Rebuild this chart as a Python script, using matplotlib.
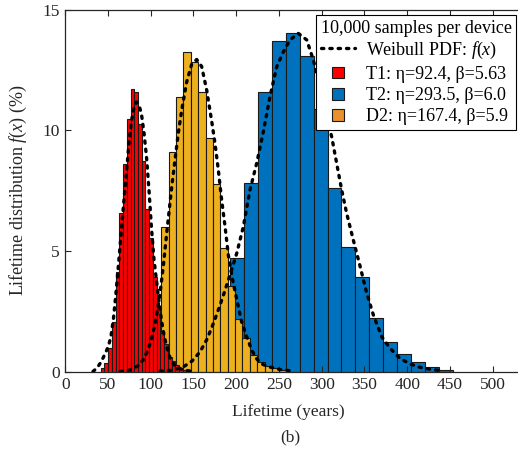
import numpy as np
import matplotlib
matplotlib.use('Agg')
import matplotlib.pyplot as plt
from matplotlib.lines import Line2D
from matplotlib.patches import Patch, Rectangle
from matplotlib.legend_handler import HandlerPatch

# ---------------- data ----------------
# histogram bins: first left edge and bin width in years, bar heights in %
t1_start, t1_width = 41.5, 4.36
t1_pct = [0.15, 0.35, 0.97, 2.05, 4.12, 6.56, 8.6, 10.48, 11.71, 11.57, 10.26,
          8.72, 6.73, 5.52, 3.93, 2.72, 1.59, 1.15, 0.62, 0.46, 0.28, 0.14, 0.07]

d2_start, d2_width = 95.1, 8.63
d2_pct = [0.8, 2.5, 6.0, 9.11, 11.36, 13.25, 12.81, 11.6, 9.69, 7.76, 5.11,
          3.56, 2.2, 1.4, 0.71, 0.41, 0.24, 0.17, 0.08]

t2_start, t2_width = 143.8, 16.3
t2_pct = [0.1, 0.5, 2.1, 4.69, 7.8, 11.6, 13.71, 14.01, 13.09, 10.9, 7.59,
          5.18, 3.93, 2.21, 1.22, 0.72, 0.39, 0.18, 0.08]

# dashed Weibull PDF curves (years, %)
t1_cx = [32.5, 37.2, 41.9, 46.5, 50.6, 53.6, 56.5, 59.4, 64.1, 68.2, 71.7, 74.6,
         77.5, 80.5, 83.4, 86.3, 89.2, 92.2, 95.1, 98.0, 100.9, 103.9, 107.4,
         110.9, 114.4, 117.9, 122.6, 128.4, 137.8, 148.3]
t1_cy = [0.01, 0.15, 0.40, 0.73, 1.06, 1.48, 2.22, 3.26, 5.16, 6.90, 8.27, 9.47,
         10.38, 10.96, 11.17, 11.04, 10.67, 9.88, 8.89, 7.52, 5.95, 4.63, 3.59,
         2.55, 1.73, 1.15, 0.57, 0.24, 0.07, 0.02]

d2_cx = [64.1, 75.8, 85.1, 92.2, 98.0, 102.7, 107.0, 110.9, 114.7, 118.7, 124.6,
         128.4, 132.3, 136.3, 142.1, 148.0, 153.8, 159.6, 165.5, 171.3, 175.2,
         179.1, 183.0, 186.9, 190.8, 196.6, 202.5, 206.4, 212.3, 218.1, 224.0,
         229.8, 239.5, 251.2, 262.9]
d2_cy = [0.01, 0.07, 0.24, 0.53, 1.02, 1.60, 2.35, 3.25, 4.35, 5.73, 7.65,
         8.77, 9.88, 10.84, 12.00, 12.74, 12.93, 12.64, 11.66, 10.38, 9.46,
         8.35, 7.11, 6.03, 4.83, 3.67, 2.69, 2.06, 1.45, 0.90, 0.53,
         0.32, 0.19, 0.09, 0.04]

t2_cx = [110.9, 124.9, 137.8, 148.3, 157.7, 165.9, 174.0, 181.1, 187.0, 192.7,
         200.6, 208.3, 216.1, 224.0, 231.7, 239.5, 247.4, 255.1, 262.9, 272.6,
         282.5, 290.2, 298.0, 305.8, 311.7, 317.5, 323.4, 329.2, 337.0, 344.8,
         352.6, 360.4, 370.2, 379.9, 391.6, 403.3, 415.0, 426.7, 438.4]
t2_cy = [0.02, 0.06, 0.19, 0.44, 0.82, 1.35, 2.06, 2.76, 3.38, 4.00,
         4.90, 6.00, 7.52, 8.64, 9.93, 11.39, 12.63, 13.24, 13.74, 14.01,
         13.74, 12.91, 11.80, 10.56, 9.73, 8.63, 7.52, 6.56, 5.45, 4.38,
         3.26, 2.35, 1.45, 0.97, 0.55, 0.32, 0.18, 0.10, 0.05]

x_ticks = [0, 50, 100, 150, 200, 250, 300, 350, 400, 450, 500]
y_ticks = [0, 5, 10, 15]

labels = ['T1: η=92.4, β=5.63', 'T2: η=293.5, β=6.0', 'D2: η=167.4, β=5.9']
legend_title = '10,000 samples per device'
curve_label = 'Weibull PDF: $f$($x$)'

# ---------------- style ----------------
plt.rcParams['font.family'] = ['Liberation Serif', 'DejaVu Serif']
plt.rcParams['mathtext.fontset'] = 'custom'
plt.rcParams['mathtext.rm'] = 'Liberation Serif'
plt.rcParams['mathtext.it'] = 'Liberation Serif:italic'
plt.rcParams['font.size'] = 12.5

c_red = '#FF0000'
c_blue = '#0072BD'
c_yel = '#EDB120'
c_leg_d2 = '#E9912E'
edge = '#1a1a1a'
axc = '#262626'

fig = plt.figure(figsize=(5.18, 4.50), dpi=100)
ax_w = 540 * 0.855
ax = fig.add_axes([65.2 / 518, (450 - 371.7) / 450, ax_w / 518, (371.7 - 9.5) / 450])

def draw_hist(start, width, vals, color, z):
    lefts = start + width * np.arange(len(vals))
    ax.bar(lefts, vals, width=width, align='edge', color=color,
           edgecolor=edge, linewidth=0.8, zorder=z)

draw_hist(t2_start, t2_width, t2_pct, c_blue, 1)
draw_hist(d2_start, d2_width, d2_pct, c_yel, 2)
draw_hist(t1_start, t1_width, t1_pct, c_red, 3)

for cx, cy in [(t1_cx, t1_cy), (d2_cx, d2_cy), (t2_cx, t2_cy)]:
    ax.plot(cx, cy, color='black', lw=2.4, dashes=[0.7, 1.8],
            dash_capstyle='round', zorder=5)

ax.set_xlim(0, 540)
ax.set_ylim(0, 15)
ax.set_xticks(x_ticks)
ax.set_yticks(y_ticks)
ax.tick_params(direction='in', length=4, width=0.8, top=True, right=True,
               colors=axc, labelcolor='#262626', pad=4)
for s in ax.spines.values():
    s.set_color(axc)
    s.set_linewidth(0.9)

ax.set_xlabel('Lifetime (years)', color='#262626')
ax.xaxis.set_label_coords((288 - 65.2) / ax_w, -0.09)
ax.set_ylabel('Lifetime distribution $f$($x$) (%)', color='#262626', fontsize=13)
ax.yaxis.set_label_coords(-(65.2 - 29) / ax_w, 0.5)
fig.text(290 / 518, 1 - 437 / 450, '(b)', ha='center', va='center',
         color='#262626', fontsize=12.5)


def square_patch(legend, orig_handle, xdescent, ydescent, width, height, fontsize):
    s = 8.4  # points
    return Rectangle((-xdescent + width / 2 - s / 2, -ydescent + height / 2 - s / 2), s, s)


handles = [Line2D([], [], color='black', lw=2.4, dashes=[0.7, 1.8],
                  dash_capstyle='round'),
           Patch(facecolor=c_red, edgecolor=edge, linewidth=0.8),
           Patch(facecolor=c_blue, edgecolor=edge, linewidth=0.8),
           Patch(facecolor=c_leg_d2, edgecolor=edge, linewidth=0.8)]
leg = ax.legend(handles, [curve_label] + labels, title=legend_title,
                loc='upper left',
                bbox_to_anchor=((316 - 65.2) / ax_w, (371.7 - 15) / (371.7 - 9.5)),
                frameon=True, fancybox=False, edgecolor='black', framealpha=1,
                borderpad=0.25, labelspacing=0.2, handlelength=1.9,
                handletextpad=0.6, borderaxespad=0, fontsize=13,
                title_fontsize=13, handleheight=0.9,
                handler_map={Patch: HandlerPatch(patch_func=square_patch)})
leg.get_frame().set_linewidth(0.8)
leg.set_zorder(10)
leg._legend_box.align = 'left'

fig.savefig('out.png', dpi=100)
